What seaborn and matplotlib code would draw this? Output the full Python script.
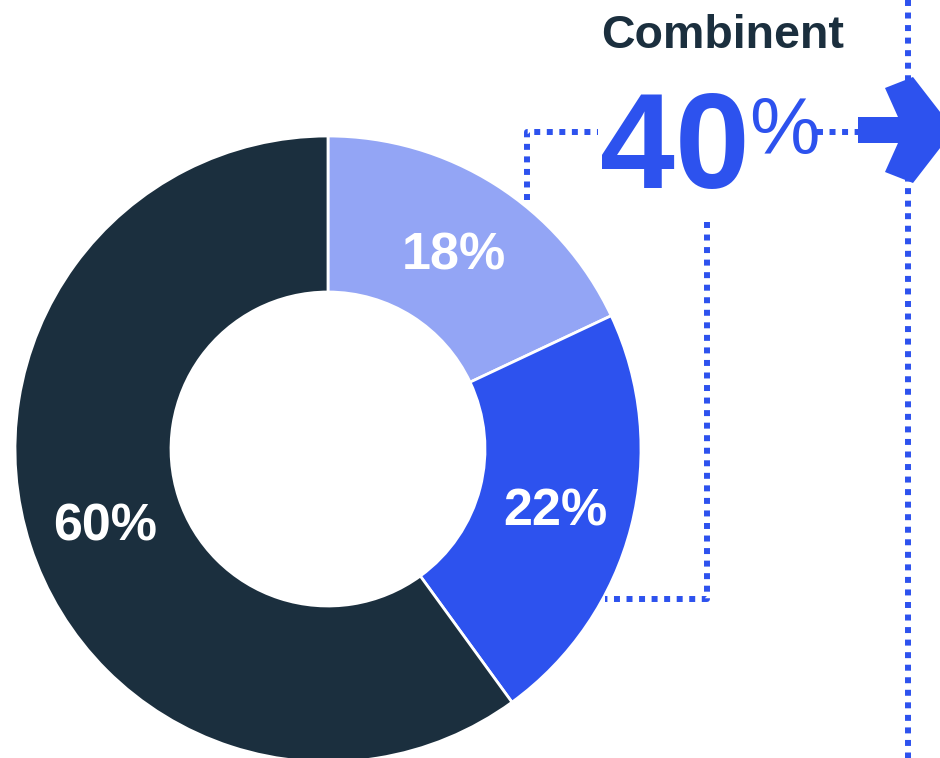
import matplotlib
matplotlib.use('Agg')
import matplotlib.pyplot as plt
import seaborn as sns
from matplotlib.patches import Polygon


# 数据
segments = ['Share A', 'Share B', 'Share C']
shares = [18, 22, 60]
combined_label = 'Combinent'
combined_value = 40

W, H = 940, 758
BLUE = '#2D52EE'
DARK = '#1B2F3E'
LIGHT = '#93A5F5'


def py(y):
    """像素 y（自上而下）转为数据坐标"""
    return H - y


def dotted(ax, xs, ys):
    ax.plot(xs, [py(v) for v in ys], color=BLUE, lw=4.3,
            linestyle=(0, (1, 1.1)), dash_capstyle='butt', zorder=1)


sns.set_theme(style='white')
plt.rcParams['font.family'] = ['Liberation Sans', 'DejaVu Sans']

fig = plt.figure(figsize=(W / 100, H / 100), dpi=100)
ax = fig.add_axes([0, 0, 1, 1])

palette = sns.color_palette([LIGHT, BLUE, DARK])
wedges, _, autotexts = ax.pie(
    shares, colors=palette, startangle=90, counterclock=False,
    radius=313, center=(328, py(449)),
    autopct='%d%%', pctdistance=0.75,
    wedgeprops=dict(width=156, edgecolor='white', linewidth=2),
    textprops=dict(color='white', fontsize=37.5, fontweight='bold'))
for t in autotexts:
    x, y = t.get_position()
    t.set_position((x, y - 5))

# 连接虚线
dotted(ax, [527, 527, 598], [200, 132, 132])
dotted(ax, [817, 860], [132, 132])
dotted(ax, [707, 707, 605], [222, 599, 599])
dotted(ax, [908, 908], [0, 758])

arrow_px = [(858, 117), (898, 117), (885, 88), (913, 77), (954, 130),
            (913, 183), (885, 172), (898, 143), (858, 143)]
ax.add_patch(Polygon([(x, py(y)) for x, y in arrow_px], closed=True,
                     facecolor=BLUE, edgecolor='none', zorder=2))

ax.text(723, py(48), combined_label, ha='center', va='baseline',
        fontsize=33.5, fontweight='bold', color=DARK)
ax.text(675, py(188), f'{combined_value}', ha='center', va='baseline',
        fontsize=97, fontweight='bold', color=BLUE)
ax.text(784, py(154), '%', ha='center', va='baseline',
        fontsize=57, color=BLUE)

ax.set_xlim(0, W)
ax.set_ylim(0, H)
ax.set_aspect('auto')
ax.axis('off')

fig.savefig('out.png', dpi=100)
